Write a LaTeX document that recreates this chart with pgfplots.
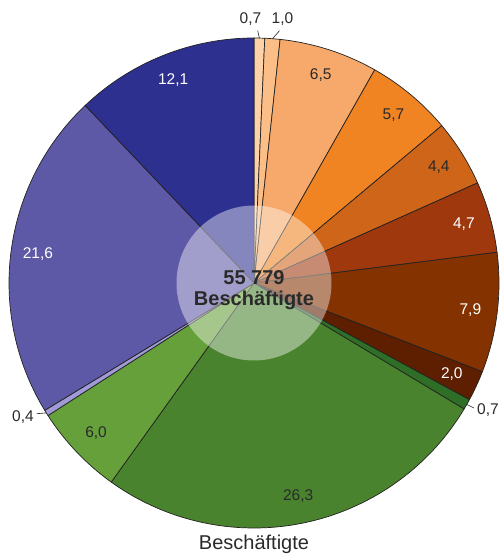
\documentclass[border=0pt]{standalone}
\usepackage{pgfplots}
\usepackage{pgfplotstable}
\pgfplotsset{compat=1.18}
\usepackage{fontspec}
\setmainfont{Liberation Sans}
\definecolor{s01}{HTML}{FDD2A8}
\definecolor{s02}{HTML}{FBBE86}
\definecolor{s03}{HTML}{F6A96A}
\definecolor{s04}{HTML}{F08423}
\definecolor{s05}{HTML}{CF6519}
\definecolor{s06}{HTML}{A0380E}
\definecolor{s07}{HTML}{843300}
\definecolor{s08}{HTML}{5E1E00}
\definecolor{s09}{HTML}{2E6E26}
\definecolor{s10}{HTML}{4A832E}
\definecolor{s11}{HTML}{65A03A}
\definecolor{s12}{HTML}{A09AD6}
\definecolor{s13}{HTML}{5E59A6}
\definecolor{s14}{HTML}{2E3090}
\definecolor{edge}{HTML}{222222}
\definecolor{txtdark}{HTML}{2A2A2A}
\newcommand\labfont{\fontsize{15.5}{18}\selectfont}
\pgfplotstableread{
val  col tcol    lab
0.7  s01 txtdark 0
1.0  s02 txtdark 0
6.5  s03 txtdark 1
5.7  s04 txtdark 1
4.4  s05 txtdark 1
4.7  s06 white   1
7.9  s07 white   1
2.0  s08 white   1
0.7  s09 txtdark 0
26.3 s10 txtdark 1
6.0  s11 txtdark 1
0.4  s12 txtdark 0
21.6 s13 white   1
12.1 s14 white   1
}\piedata
\begin{document}
\begin{tikzpicture}
\begin{axis}[
  x=1pt, y=1pt,
  xmin=-254, xmax=245, ymin=-271, ymax=283,
  hide axis, clip=false,
]
\coordinate (SW) at (axis cs:-254,-271);
\coordinate (NE) at (axis cs:245,283);
\def\cum{0}
\pgfplotsforeachungrouped \i in {0,...,13}{%
  \pgfplotstablegetelem{\i}{val}\of\piedata \let\v\pgfplotsretval
  \pgfplotstablegetelem{\i}{col}\of\piedata \let\c\pgfplotsretval
  \pgfplotstablegetelem{\i}{tcol}\of\piedata \let\tc\pgfplotsretval
  \pgfplotstablegetelem{\i}{lab}\of\piedata \let\lab\pgfplotsretval
  \pgfmathsetmacro\aA{90-3.6*\cum}
  \pgfmathsetmacro\aB{90-3.6*(\cum+\v)}
  \pgfmathsetmacro\aM{(\aA+\aB)/2}
  \pgfmathsetmacro\xA{245*cos(\aA)}
  \pgfmathsetmacro\yA{245*sin(\aA)}
  \pgfmathsetmacro\lx{218*cos(\aM)}
  \pgfmathsetmacro\ly{218*sin(\aM)}
  \edef\temp{\noexpand\filldraw[fill=\c,draw=edge,line width=0.7pt,line join=round] (axis cs:0,0) -- (axis cs:\xA,\yA) arc[start angle=\aA,end angle=\aB,radius=245pt] -- cycle;}%
  \temp
  \ifnum\lab=1
    \edef\temp{\noexpand\node[text=\tc,font=\noexpand\labfont] at (axis cs:\lx,\ly) {\noexpand\pgfmathprintnumber[fixed,fixed zerofill,precision=1,use comma,assume math mode=true]{\v}};}%
    \temp
  \fi
  \pgfmathsetmacro\cum{\cum+\v}%
}
% leader lines and outside labels for the small slices
\draw[edge, line width=0.6pt] (axis cs:5.4,244.9) -- (axis cs:3.7,252.3);
\node[font=\labfont, text=txtdark] at (axis cs:-3.5,264) {0,7};
\draw[edge, line width=0.6pt] (axis cs:18.5,244.3) -- (axis cs:25.5,252.3);
\node[font=\labfont, text=txtdark] at (axis cs:28.5,264) {1,0};
\draw[edge, line width=0.6pt] (axis cs:212.8,-121.4) -- (axis cs:220,-125);
\node[font=\labfont, text=txtdark] at (axis cs:234,-127) {0,7};
\draw[edge, line width=0.6pt] (axis cs:-207.7,-129.9) -- (axis cs:-217.3,-130.7);
\node[font=\labfont, text=txtdark] at (axis cs:-231,-133.7) {0,4};
% centre disc
\fill[white, opacity=0.42] (axis cs:0,0) circle[radius=77.5pt];
\node[font=\bfseries\fontsize{20}{21}\selectfont, text=txtdark, align=center, inner sep=0pt] at (axis cs:0,-6.8) {55 779\\Beschäftigte};
\node[font=\fontsize{20}{24}\selectfont, text=txtdark] at (axis cs:0,-261) {Beschäftigte};
\end{axis}
\pgfresetboundingbox
\useasboundingbox (SW) rectangle (NE);
\end{tikzpicture}
\end{document}
